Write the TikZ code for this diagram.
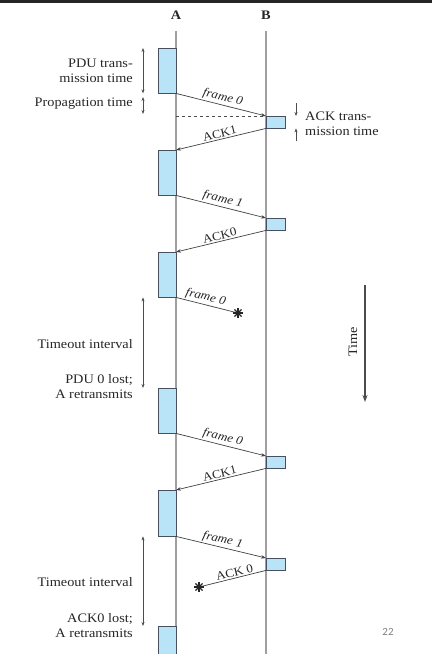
\documentclass[tikz,border=0pt]{standalone}
\usepackage{fontspec}
\setmainfont{Liberation Serif}[FakeStretch=1.1]
\newfontfamily\pagefont{Carlito}
\usepackage{xcolor}
\usepackage{tikz}
\usetikzlibrary{arrows.meta}

\definecolor{boxfill}{RGB}{185,228,248}
\definecolor{boxline}{RGB}{70,80,95}

\begin{document}
\begin{tikzpicture}[
    x=1pt, y=-1pt,
    station/.style={font=\bfseries\fontsize{13}{15}\selectfont, text=black!85},
    lifeline/.style={draw=gray!75, line width=1.3pt},
    pdu/.style={draw=boxline, fill=boxfill, minimum width=18pt, anchor=north east, inner sep=0pt},
    ack/.style={draw=boxline, fill=boxfill, minimum width=19pt, minimum height=12pt, anchor=north west, inner sep=0pt},
    msg/.style={-{Stealth[length=5pt, width=3.5pt]}, draw=black!75, line width=0.7pt},
    lostmsg/.style={draw=black!75, line width=0.7pt},
    tag/.style={font=\fontsize{12}{13}\selectfont, sloped, above, inner sep=1.5pt, text=black!85},
    lbl/.style={font=\fontsize{13}{15}\selectfont, text=black!85, align=right, anchor=east, inner sep=0pt},
    dim/.style={{Stealth[length=4pt, width=3pt]}-{Stealth[length=4pt, width=3pt]}, draw=black!70, line width=0.6pt},
    tick/.style={-{Stealth[length=4pt, width=3pt]}, draw=black!70, line width=0.6pt},
    timearr/.style={-{Stealth[length=7pt, width=5pt]}, draw=black!70, line width=1.4pt},
  ]
  \useasboundingbox (0,0) rectangle (432,654);
  \fill[black!85] (0,0) rectangle (432,3);

  % stations
  \node[station] (A) at (176,15) {A};
  \node[station] (B) at (266,15) {B};
  \draw[lifeline] ([yshift=-8pt]A.south) -- (A.south |- 0,654);
  \draw[lifeline] ([yshift=-8pt]B.south) -- (B.south |- 0,654);

  % transmission boxes
  \node[pdu, minimum height=45pt] (a1) at (176,48) {};
  \node[pdu, minimum height=45pt] (a2) at (176,150) {};
  \node[pdu, minimum height=45pt] (a3) at (176,252) {};
  \node[pdu, minimum height=45pt] (a4) at (176,388) {};
  \node[pdu, minimum height=46pt] (a5) at (176,490) {};
  \node[pdu, minimum height=29pt] (a6) at (176,626) {};
  \node[ack] (b1) at (266,116) {};
  \node[ack] (b2) at (266,218) {};
  \node[ack] (b3) at (266,456) {};
  \node[ack] (b4) at (266,558) {};

  % messages
  \draw[msg] (a1.south east) -- node[tag] {\textit{frame 0}} (b1.north west);
  \draw[msg] (b1.south west) -- node[tag] {ACK1} (a2.north east);
  \draw[msg] (a2.south east) -- node[tag] {\textit{frame 1}} (b2.north west);
  \draw[msg] (b2.south west) -- node[tag] {ACK0} (a3.north east);
  \draw[msg] (a4.south east) -- node[tag] {\textit{frame 0}} (b3.north west);
  \draw[msg] (b3.south west) -- node[tag] {ACK1} (a5.north east);
  \draw[msg] (a5.south east) -- node[tag] {\textit{frame 1}} (b4.north west);
  \draw[dashed, black!70] (a1.south east |- b1.north west) -- (b1.north west);

  % lost messages
  \coordinate (x1) at (238,313);
  \coordinate (x2) at (199,587);
  \draw[lostmsg] (a3.south east) -- node[tag, pos=0.45] {\textit{frame 0}} (x1);
  \draw[lostmsg] (b4.south west) -- node[tag, pos=0.45] {ACK 0} (x2);
  \foreach \p in {x1,x2}
    \foreach \a in {0,45,90,135}
      \draw[line width=1.3pt, black!85] (\p) ++(\a:5pt) -- ++(\a+180:10pt);

  % timing marks
  \coordinate (dl) at (143,0);
  \coordinate (dr) at (296,0);
  \coordinate (p1) at (143,97);
  \coordinate (p2) at (143,114);
  \coordinate (k1) at (296,103);
  \coordinate (k2) at (296,141);
  \draw[dim] (a1.north east -| dl) -- (a1.south east -| dl);
  \draw[dim] (p1) -- (p2);
  \draw[tick] (k1) -- (b1.north west -| dr);
  \draw[tick] (k2) -- (b1.south west -| dr);
  \draw[dim] (a3.south east -| dl) -- (a4.north east -| dl);
  \draw[dim] (a5.south east -| dl) -- (a6.north east -| dl);

  % labels
  \node[lbl] (pdut) at (133,71) {PDU trans-\\mission time};
  \node[lbl] (prop) at (133,104) {Propagation time};
  \node[lbl, anchor=west, align=left] (ackt) at (305,124) {ACK trans-\\mission time};
  \node[lbl] (to1) at (133,344) {Timeout interval};
  \node[lbl] (lost1) at (133,387) {PDU 0 lost;\\A retransmits};
  \node[lbl] (to2) at (133,582) {Timeout interval};
  \node[lbl] (lost2) at (133,626) {ACK0 lost;\\A retransmits};

  % time axis
  \coordinate (t0) at (365,285);
  \coordinate (t1) at (365,402);
  \draw[timearr] (t0) -- (t1);
  \node[lbl, anchor=center, rotate=90] (time) at (353,342) {Time};

  \node[font=\pagefont\fontsize{11}{13}\selectfont, text=gray] (pg) at (388,632) {22};
\end{tikzpicture}
\end{document}
